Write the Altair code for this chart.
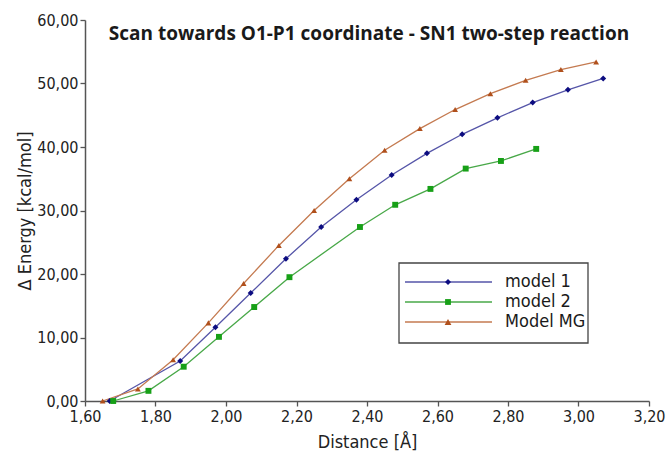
import altair as alt
import pandas as pd

series_names = ["model 1", "model 2", "Model MG"]

d_model1 = [1.67, 1.87, 1.97, 2.07, 2.17, 2.27, 2.37, 2.47, 2.57, 2.67, 2.77, 2.87, 2.97, 3.07]
e_model1 = [0.0, 6.3, 11.6, 17.0, 22.4, 27.4, 31.7, 35.6, 39.0, 42.0, 44.6, 47.0, 49.0, 50.8]

d_model2 = [1.68, 1.78, 1.88, 1.98, 2.08, 2.18, 2.38, 2.48, 2.58, 2.68, 2.78, 2.88]
e_model2 = [0.0, 1.6, 5.4, 10.1, 14.8, 19.5, 27.4, 30.9, 33.4, 36.6, 37.8, 39.7]

d_mg = [1.65, 1.75, 1.85, 1.95, 2.05, 2.15, 2.25, 2.35, 2.45, 2.55, 2.65, 2.75, 2.85, 2.95, 3.05]
e_mg = [0.0, 1.9, 6.5, 12.3, 18.5, 24.5, 30.0, 35.0, 39.5, 42.9, 45.9, 48.4, 50.5, 52.2, 53.4]

x_ticks = [1.6, 1.8, 2.0, 2.2, 2.4, 2.6, 2.8, 3.0, 3.2]
y_ticks = [0, 10, 20, 30, 40, 50, 60]

line_colors = ["#5555a8", "#48a848", "#c47a50"]
marker_colors = ["#0c0c80", "#17a017", "#b0501c"]
shapes = ["diamond", "square", "triangle-up"]
marker_sizes = [36, 34, 46]

title_text = "Scan towards O1-P1 coordinate - SN1 two-step reaction"

rows = []
for name, ds, es in [(series_names[0], d_model1, e_model1),
                     (series_names[1], d_model2, e_model2),
                     (series_names[2], d_mg, e_mg)]:
    for d, e in zip(ds, es):
        rows.append({"series": name, "distance": d, "energy": e})
df = pd.DataFrame(rows)

FONT = "Liberation Sans Narrow, DejaVu Sans Condensed, Roboto, sans-serif"
W, H = 564, 381

label_expr = "replace(format(datum.value, '.2f'), '.', ',')"

x_enc = alt.X("distance:Q",
              scale=alt.Scale(domain=[1.6, 3.2], nice=False, zero=False),
              axis=alt.Axis(values=x_ticks, labelExpr=label_expr, title="Distance [Å]",
                            grid=False, labelFlush=False, titlePadding=9))
y_enc = alt.Y("energy:Q",
              scale=alt.Scale(domain=[0, 60], nice=False),
              axis=alt.Axis(values=y_ticks, labelExpr=label_expr, title="Δ Energy [kcal/mol]",
                            grid=False, titlePadding=2))

base = alt.Chart(df)

lines = base.mark_line(strokeWidth=1.3).encode(
    x=x_enc, y=y_enc,
    color=alt.Color("series:N", scale=alt.Scale(domain=series_names, range=line_colors), legend=None),
    detail="series:N",
)

points = base.mark_point(filled=True, opacity=1).encode(
    x="distance:Q", y="energy:Q",
    fill=alt.Fill("series:N", scale=alt.Scale(domain=series_names, range=marker_colors), legend=None),
    shape=alt.Shape("series:N", scale=alt.Scale(domain=series_names, range=shapes), legend=None),
    size=alt.Size("series:N", scale=alt.Scale(domain=series_names, range=marker_sizes), legend=None),
)

title = alt.Chart(pd.DataFrame({"t": [title_text]})).mark_text(
    font="Open Sans", fontSize=19, fontWeight="bold", color="#1a1a1a", align="center", baseline="alphabetic"
).encode(x=alt.value(284), y=alt.value(20), text="t:N")

# legend box
leg_df = pd.DataFrame({"series": series_names})
box = alt.Chart(leg_df.head(1)).mark_rect(fill="white", stroke="#444", strokeWidth=1.3).encode(
    x=alt.value(314), x2=alt.value(503), y=alt.value(243), y2=alt.value(323)
)
legend_layers = [box]
for i, name in enumerate(series_names):
    sub = alt.Chart(leg_df[leg_df.series == name])
    yy = 262 + 20 * i
    legend_layers.append(sub.mark_rule(color=line_colors[i], strokeWidth=1.3).encode(
        x=alt.value(320), x2=alt.value(407), y=alt.value(yy)))
    legend_layers.append(sub.mark_point(filled=True, opacity=1, shape=shapes[i], size=marker_sizes[i],
                                        color=marker_colors[i]).encode(
        x=alt.value(363), y=alt.value(yy)))
    legend_layers.append(sub.mark_text(font=FONT, fontSize=18, align="left", baseline="middle",
                                       color="#1a1a1a").encode(
        x=alt.value(420), y=alt.value(yy), text="series:N"))

chart = alt.layer(lines, points, title, *legend_layers).properties(
    width=W, height=H,
    autosize=alt.AutoSizeParams(type="none"),
    padding={"left": 85, "top": 20, "right": 18, "bottom": 56},
).configure_view(stroke=None).configure_axis(
    domainColor="#555", domainWidth=1.5, tickColor="#555", tickWidth=1.3, tickSize=5,
    labelFont=FONT, labelFontSize=16, labelColor="#222", labelPadding=2,
    titleFont=FONT, titleFontSize=18, titleColor="#222", titleFontWeight="normal",
)

chart.save("out.html", embed_options={"renderer": "svg", "actions": False})
